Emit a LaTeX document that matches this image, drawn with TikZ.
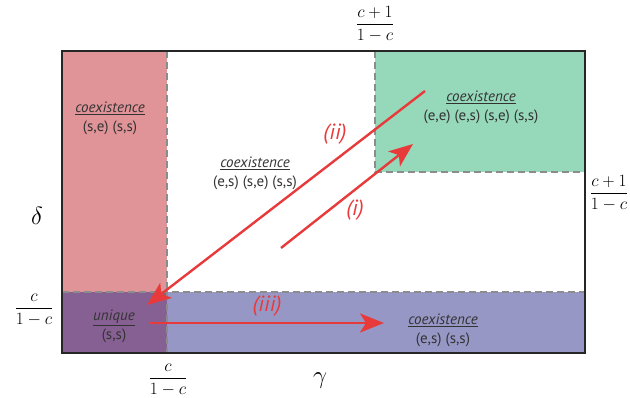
\documentclass[tikz,border=0pt]{standalone}
\usepackage{amsmath}
\usepackage{fontspec}
\setmainfont{PT Sans}
\usetikzlibrary{positioning, arrows.meta}
\definecolor{ink}{HTML}{333333}
\definecolor{rosebg}{HTML}{E09498}
\definecolor{mintbg}{HTML}{96D8BA}
\definecolor{lilacbg}{HTML}{9797C6}
\definecolor{plumbg}{HTML}{876093}
\definecolor{flowred}{HTML}{E83A3A}
\definecolor{gridgray}{HTML}{8C8C8C}

\begin{document}
\begin{tikzpicture}[x=1pt, y=-1pt,
  region/.style={font=\fontsize{15}{19}\selectfont, text=ink, align=center},
  tag/.style={font=\fontsize{22}{24}\selectfont\itshape, text=flowred},
  bound/.style={font=\fontsize{17}{19}\selectfont},
  flow/.style={line width=2.4pt, flowred, -{Stealth[length=24pt, width=19pt, inset=6pt]}},
  border/.style={gridgray, line width=1.3pt, dash pattern=on 7pt off 4pt}]
  \useasboundingbox (0,0) rectangle (630,398);
  % ---- coloured regions ----
  \fill[rosebg] (62,51) rectangle (167,292);
  \fill[mintbg] (375,51) rectangle (585,172);
  \fill[lilacbg] (167,292) rectangle (585,353);
  \fill[plumbg] (62,292) rectangle (167,353);
  % ---- region borders ----
  \draw[border] (167,51) -- (167,353);
  \draw[border] (62,292) -- (585,292);
  \draw[border] (375,51) -- (375,172) -- (585,172);
  \draw[line width=2.2pt, black!85] (62,51) rectangle (585,353);
  % ---- axes and thresholds ----
  \node[font=\fontsize{32}{34}\selectfont] (delta) at (37,216) {$\delta$};
  \node[font=\fontsize{32}{34}\selectfont] (gamma) at (320,381) {$\gamma$};
  \node[bound] (tleft) at (34,310) {$\dfrac{c}{1-c}$};
  \node[bound] (tbottom) at (168,380) {$\dfrac{c}{1-c}$};
  \node[bound] (ttop) at (375,24) {$\dfrac{c+1}{1-c}$};
  \node[bound] (tright) at (609,193) {$\dfrac{c+1}{1-c}$};
  % ---- region labels ----
  \node[region] (rose) at (110,118) {\underline{\textit{coexistence}}\\(s,e) (s,s)};
  \node[region] (white) at (255,173) {\underline{\textit{coexistence}}\\(e,s) (s,e) (s,s)};
  \node[region] (mint) at (481,107) {\underline{\textit{coexistence}}\\(e,e) (e,s) (s,e) (s,s)};
  \node[region] (lilac) at (443,330) {\underline{\textit{coexistence}}\\(e,s) (s,s)};
  \node[region] (plum) at (114,326) {\underline{\textit{unique}}\\(s,s)};
  % ---- parameter paths ----
  \coordinate (istart) at (281,248);
  \coordinate (iend) at (413,144);
  \coordinate (iistart) at (425,91);
  \coordinate (iiend) at (147,305);
  \coordinate (iiistart) at (150,323);
  \coordinate (iiiend) at (384,323);
  \draw[flow] (istart) -- (iend);
  \draw[flow] (iistart) -- (iiend);
  \draw[flow] (iiistart) -- (iiiend);
  \node[tag] (ione) at (355,210) {(i)};
  \node[tag] (itwo) at (335,134) {(ii)};
  \node[tag] (ithree) at (267,306) {(iii)};
\end{tikzpicture}
\end{document}
